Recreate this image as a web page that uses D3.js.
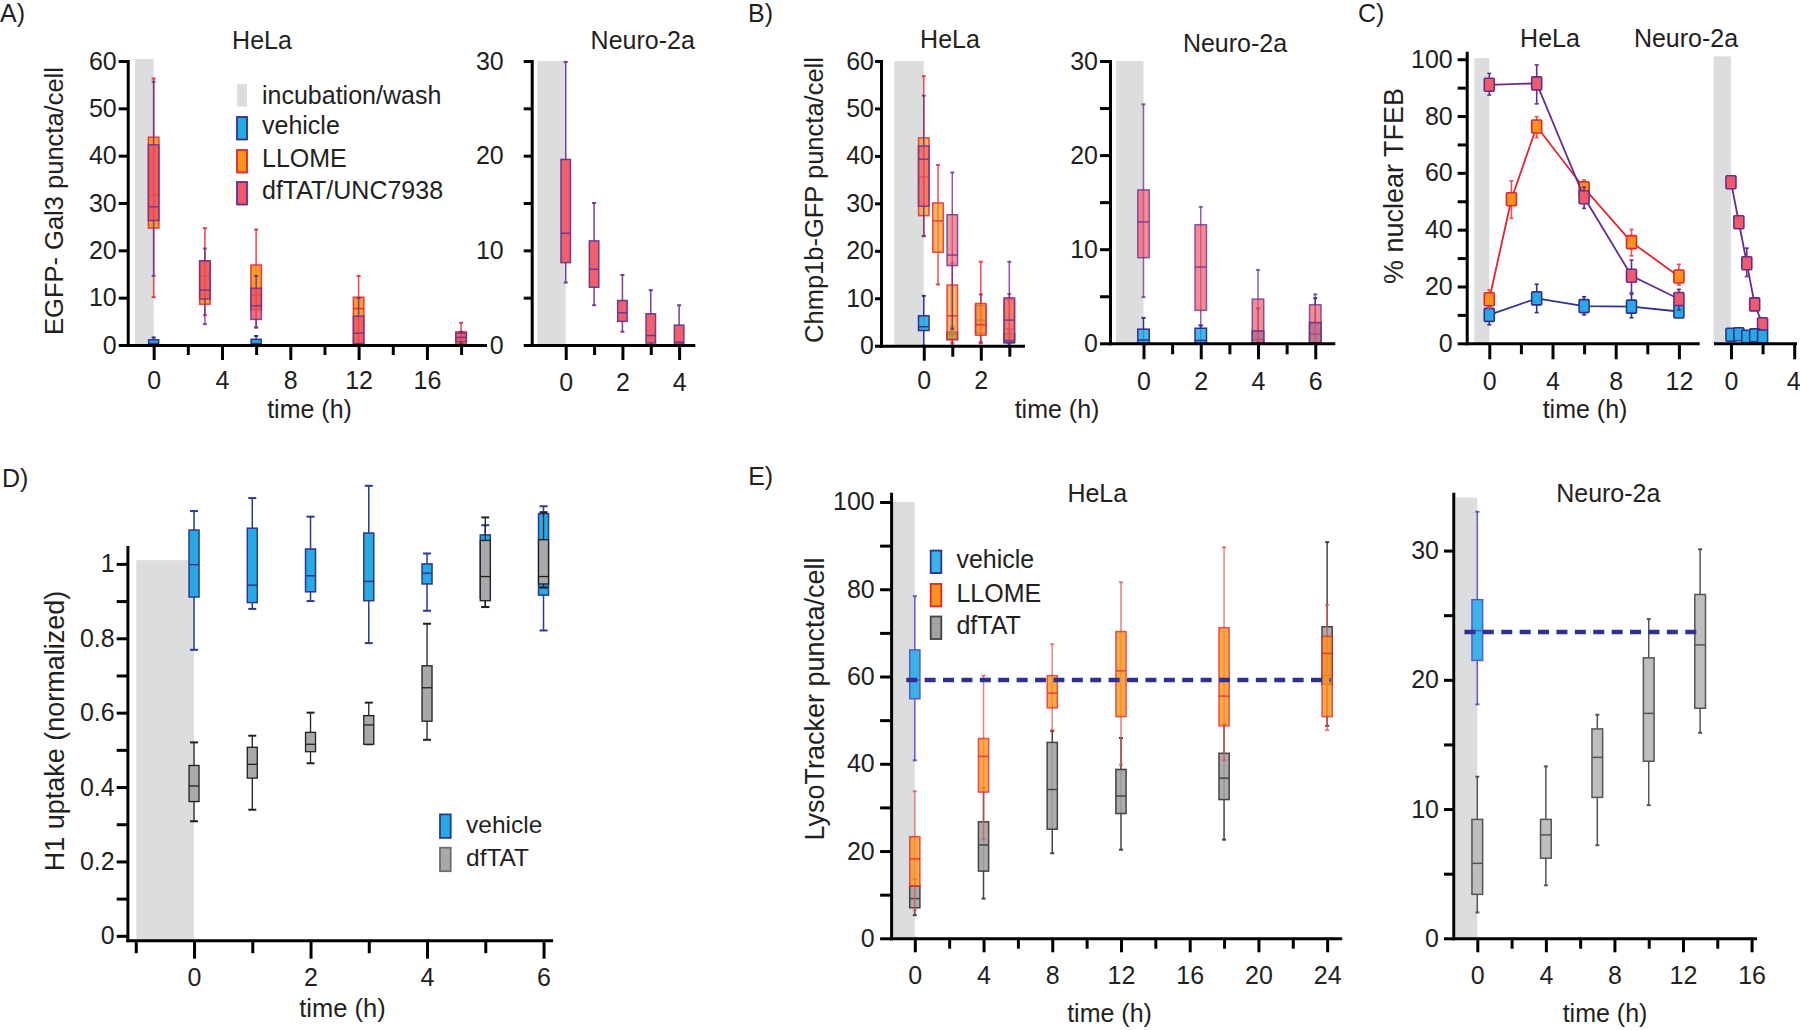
<!DOCTYPE html>
<html><head><meta charset="utf-8">
<script src="https://cdn.jsdelivr.net/npm/d3@7"></script>
<style>
body{margin:0;background:#fff;}
svg{display:block;}
</style></head><body>
<svg id="chart" width="1800" height="1030"></svg>
<script>
// ================= DATA =================
// Box statistics: t = time (h), lo/hi = whiskers, q1/q3 = box, med = median
const aHelaVehicle = [{t:0,lo:0,q1:0,med:0.3,q3:1.1,hi:1.6},{t:6,lo:0,q1:0,med:0.3,q3:1.2,hi:1.9}];
const aHelaLLOME = [
  {t:0,lo:10.1,q1:24.7,med:31.7,q3:43.9,hi:56.3},
  {t:3,lo:6.3,q1:8.6,med:14.6,q3:17.8,hi:24.7},
  {t:6,lo:3.7,q1:7.4,med:10.5,q3:16.9,hi:24.4},
  {t:12,lo:0,q1:0.3,med:7.7,q3:10.1,hi:14.6},
  {t:18,lo:0,q1:0.3,med:1.6,q3:2.8,hi:4.7}];
const aHelaDfTAT = [
  {t:0,lo:14.6,q1:26.3,med:29.2,q3:42.3,hi:55.6},
  {t:3,lo:4.4,q1:9.7,med:11.6,q3:17.8,hi:20.4},
  {t:6,lo:3.7,q1:5.4,med:8.3,q3:12.0,hi:14.6},
  {t:12,lo:0,q1:0.3,med:2.5,q3:6.1,hi:9.9},
  {t:18,lo:0.3,q1:0.7,med:1.6,q3:2.5,hi:2.8}];
const aNeuroDfTAT = [
  {t:0,lo:6.6,q1:8.7,med:11.8,q3:19.6,hi:29.9},
  {t:1,lo:4.2,q1:6.1,med:8.0,q3:11.0,hi:15.0},
  {t:2,lo:1.4,q1:2.5,med:3.4,q3:4.7,hi:7.4},
  {t:3,lo:0,q1:0.2,med:1.0,q3:3.3,hi:5.8},
  {t:4,lo:0,q1:0.1,med:0.3,q3:2.1,hi:4.2}];

const bHelaVehicle = [
  {t:0,lo:0,q1:3.2,med:4.0,q3:6.3,hi:10.5},
  {t:1,lo:0,q1:1.3,med:2.4,q3:2.9,hi:4.0},
  {t:3,lo:0,q1:0.6,med:1.2,q3:2.5,hi:3.0}];
const bHelaLLOME = [
  {t:0,lo:23.1,q1:27.4,med:35.6,q3:43.8,hi:56.8},
  {t:0.5,lo:12.9,q1:19.7,med:26.3,q3:30.1,hi:38.1},
  {t:1,lo:0.6,q1:1.3,med:6.3,q3:12.8,hi:17.4},
  {t:2,lo:0.8,q1:2.2,med:4.4,q3:8.9,hi:17.7},
  {t:3,lo:0.5,q1:1.2,med:3.5,q3:9.8,hi:10.9}];
const bHelaDfTAT = [
  {t:0,lo:23.1,q1:29.4,med:39.3,q3:42.1,hi:52.7},
  {t:1,lo:3.5,q1:16.9,med:19.1,q3:27.6,hi:36.5},
  {t:2,lo:0.5,q1:2.6,med:5.4,q3:8.5,hi:10.8},
  {t:3,lo:0.6,q1:1.0,med:5.4,q3:10.1,hi:17.7}];
const bNeuroVehicle = [
  {t:0,lo:0,q1:0,med:0.35,q3:1.5,hi:2.7},
  {t:2,lo:0,q1:0,med:0.3,q3:1.6,hi:1.9},
  {t:4,lo:0,q1:0,med:0.4,q3:1.3,hi:3.7},
  {t:6,lo:0,q1:0,med:1.0,q3:2.2,hi:4.8}];
const bNeuroDfTAT = [
  {t:0,lo:4.9,q1:9.1,med:12.9,q3:16.3,hi:25.4},
  {t:2,lo:1.9,q1:3.5,med:8.1,q3:12.6,hi:14.5},
  {t:4,lo:0,q1:0,med:1.3,q3:4.7,hi:7.8},
  {t:6,lo:0,q1:0,med:2.2,q3:4.1,hi:5.2}];

// Panel C: mean with error range
const cHelaVehicle = [
  {t:0,v:10.0,lo:6.5,hi:12.9},{t:3,v:15.8,lo:10.8,hi:20.8},{t:6,v:13.1,lo:10.0,hi:16.4},
  {t:9,v:12.9,lo:9.0,hi:17.3},{t:12,v:11.2,lo:10.0,hi:12.5}];
const cHelaLLOME = [
  {t:0,v:15.5,lo:12.5,hi:18.8},{t:1.4,v:50.7,lo:44.0,hi:57.2},{t:3,v:76.3,lo:72.4,hi:79.8},
  {t:6,v:54.6,lo:51.5,hi:57.5},{t:9,v:35.6,lo:30.8,hi:40.1},{t:12,v:23.5,lo:20.5,hi:27.8}];
const cHelaDfTAT = [
  {t:0,v:91.0,lo:87.4,hi:95.0},{t:3,v:91.5,lo:84.3,hi:98.0},{t:6,v:51.4,lo:47.5,hi:55.0},
  {t:9,v:23.8,lo:17.8,hi:29.3},{t:12,v:15.6,lo:11.7,hi:19.0}];
const cNeuroVehicle = [
  {t:0,v:3.0,lo:3.0,hi:3.0},{t:0.5,v:3.2,lo:2.8,hi:4.3},{t:1,v:2.3,lo:2.3,hi:2.3},
  {t:1.5,v:2.8,lo:2.8,hi:2.8},{t:2,v:2.4,lo:2.4,hi:2.4}];
const cNeuroDfTAT = [
  {t:0,v:56.7,lo:56.7,hi:56.7},{t:0.5,v:42.6,lo:42.6,hi:42.6},{t:1,v:28.2,lo:23.5,hi:33.5},
  {t:1.5,v:13.7,lo:13.7,hi:13.7},{t:2,v:6.7,lo:6.7,hi:6.7}];

const dVehicle = [
  {t:0,lo:0.769,q1:0.911,med:0.998,q3:1.091,hi:1.142},
  {t:1,lo:0.879,q1:0.896,med:0.943,q3:1.096,hi:1.177},
  {t:2,lo:0.900,q1:0.925,med:0.968,q3:1.040,hi:1.127},
  {t:3,lo:0.787,q1:0.901,med:0.953,q3:1.083,hi:1.210},
  {t:4,lo:0.874,q1:0.946,med:0.975,q3:1.000,hi:1.028},
  {t:5,lo:0.884,q1:0.908,med:0.980,q3:1.078,hi:1.104},
  {t:6,lo:0.821,q1:0.916,med:0.938,q3:1.135,hi:1.155}];
const dDfTAT = [
  {t:0,lo:0.308,q1:0.361,med:0.403,q3:0.458,hi:0.520},
  {t:1,lo:0.339,q1:0.424,med:0.461,q3:0.507,hi:0.538},
  {t:2,lo:0.464,q1:0.495,med:0.515,q3:0.547,hi:0.600},
  {t:3,lo:0.515,q1:0.515,med:0.567,q3:0.592,hi:0.627},
  {t:4,lo:0.527,q1:0.577,med:0.667,q3:0.726,hi:0.839},
  {t:5,lo:0.884,q1:0.901,med:0.966,q3:1.063,hi:1.125},
  {t:6,lo:0.936,q1:0.946,med:0.966,q3:1.065,hi:1.139}];

const eHelaVehicle = [{t:0,lo:40.8,q1:54.9,med:59.2,q3:66.1,hi:78.4}];
const eHelaLLOME = [
  {t:0,lo:6.4,q1:12.0,med:18.2,q3:23.3,hi:33.7},
  {t:4,lo:22.7,q1:33.5,med:41.7,q3:45.8,hi:60.2},
  {t:8,lo:47.7,q1:52.8,med:56.2,q3:60.2,hi:67.4},
  {t:12,lo:39.8,q1:50.8,med:61.3,q3:70.3,hi:81.6},
  {t:18,lo:40.8,q1:48.7,med:55.5,q3:71.2,hi:89.6},
  {t:24,lo:47.7,q1:50.8,med:65.3,q3:69.2,hi:76.4}];
const eHelaDfTAT = [
  {t:0,lo:5.3,q1:7.0,med:9.1,q3:12.0,hi:13.6},
  {t:4,lo:9.1,q1:15.4,med:21.4,q3:26.7,hi:34.5},
  {t:8,lo:19.5,q1:25.0,med:34.1,q3:44.9,hi:47.5},
  {t:12,lo:20.3,q1:28.6,med:32.6,q3:38.7,hi:45.9},
  {t:18,lo:22.6,q1:31.8,med:36.7,q3:42.4,hi:49.2},
  {t:24,lo:48.7,q1:58.2,med:60.2,q3:71.4,hi:90.8}];
const eNeuroVehicle = [{t:0,lo:18.1,q1:21.5,med:23.8,q3:26.2,hi:33.0}];
const eNeuroDfTAT = [
  {t:0,lo:2.0,q1:3.4,med:5.8,q3:9.2,hi:12.5},
  {t:4,lo:4.1,q1:6.2,med:8.0,q3:9.2,hi:13.3},
  {t:7,lo:7.2,q1:10.9,med:14.0,q3:16.2,hi:17.3},
  {t:10,lo:10.3,q1:13.7,med:17.4,q3:21.7,hi:24.7},
  {t:13,lo:15.9,q1:17.8,med:22.7,q3:26.6,hi:30.1}];
// vehicle median reference lines (value, from t, to t)
const eHelaRef = [59.2, -0.5, 24.2];
const eNeuroRef = [23.7, -0.75, 12.9];

// incubation/wash windows (t start, t end, upper value)
const washAHela = [-1.1, 0, 60.4], washANeuro = [-1.0, 0, 30];
const washBHela = [-1.03, 0, 60], washBNeuro = [-0.96, 0, 30];
const washCHela = [-0.95, 0, 100.4], washCNeuro = [-1.1, 0, 101];
const washD = [-0.99, 0, 1.01];
const washEHela = [-1.27, 0, 100], washENeuro = [-1.25, 0, 34.1];

// tick values / labels
const range = (a,b,s) => d3.range(a, b + s/2, s).map(v => +v.toFixed(2));
const ticksA_x = range(0,18,2), labelsA_x = [0,4,8,12,16];
const ticksA_y = range(0,60,10), labelsA_y = range(0,60,10);
const ticksAN_x = [0,1,2,3,4], labelsAN_x = [0,2,4];
const ticksAN_y = range(0,30,5), labelsAN_y = [0,10,20,30];
const ticksB_x = [0,1,2,3], labelsB_x = [0,2];
const ticksBN_x = [0,1,2,3,4,5,6], labelsBN_x = [0,2,4,6];
const ticksC_x = range(0,12,2), labelsC_x = [0,4,8,12];
const ticksC_y = range(0,100,10), labelsC_y = range(0,100,20);
const ticksCN_x = [0,2,4], labelsCN_x = [0,4];
const ticksD_x = [-1,0,1,2,3,4,5,6], labelsD_x = [0,2,4,6];
const ticksD_y = range(0,1,0.1), labelsD_y = [0,0.2,0.4,0.6,0.8,1];
const ticksE_x = range(0,24,2), labelsE_x = range(0,24,4);
const ticksE_y = range(0,100,10), labelsE_y = range(0,100,20);
const ticksEN_x = range(0,16,2), labelsEN_x = range(0,16,4);
const ticksEN_y = range(0,30,5), labelsEN_y = [0,10,20,30];

const legendA = ["incubation/wash","vehicle","LLOME","dfTAT/UNC7938"];
const legendD = ["vehicle","dfTAT"];
const legendE = ["vehicle","LLOME","dfTAT"];

// ================= DRAWING =================
const FONT = '"Liberation Sans", Arial, Helvetica, sans-serif';
const INK = "#231f20";
const svg = d3.select("#chart").attr("font-family", FONT);
const BAND = "#dcdddf";

function txt(s, x, y, fs, anchor, rot) {
  return svg.append("text").attr("x", x).attr("y", y).text(s)
    .attr("font-size", fs).attr("text-anchor", anchor || "start").attr("fill", INK)
    .attr("transform", rot ? `rotate(-90,${x},${y})` : null);
}
function styleAxis(a, fs) {
  a.attr("font-family", FONT).attr("font-size", fs);
  a.select(".domain").attr("stroke", "#000").attr("stroke-width", 3).attr("stroke-linecap", "square");
  a.selectAll(".tick line").attr("stroke", "#000").attr("stroke-width", 3);
  a.selectAll(".tick text").attr("fill", INK);
}
function axes(x, y, o) {
  const inc = (arr, d) => arr.some(v => Math.abs(v - d) < 1e-6);
  const gx = svg.append("g").attr("transform", `translate(0,${y.range()[0]})`)
    .call(d3.axisBottom(x).tickValues(o.xt).tickSize(o.major).tickSizeOuter(0).tickPadding(o.xPad)
      .tickFormat(d => inc(o.xl, d) ? String(d) : ""));
  gx.selectAll(".tick line").attr("y2", d => inc(o.xl, d) ? o.major : o.minor);
  styleAxis(gx, o.fs);
  if (o.yt) {
    const gy = svg.append("g").attr("transform", `translate(${x.range()[0]},0)`)
      .call(d3.axisLeft(y).tickValues(o.yt).tickSize(o.yLen).tickSizeOuter(0).tickPadding(o.yPad)
        .tickFormat(d => inc(o.yl, d) ? String(d) : ""));
    styleAxis(gy, o.fs);
  }
  return gx;
}
function band(x, y, w) {
  svg.append("rect").attr("x", x(w[0])).attr("width", x(w[1]) - x(w[0]))
    .attr("y", y(w[2])).attr("height", y.range()[0] - y(w[2])).attr("fill", BAND);
}
function boxes(data, x, y, st, w) {
  const g = svg.append("g").selectAll("g").data(data).join("g");
  const sw = st.sw || 1.5, cw = (st.cap || 4) / 2;
  g.append("line").attr("x1", d => x(d.t)).attr("x2", d => x(d.t))
    .attr("y1", d => y(d.lo)).attr("y2", d => y(d.hi))
    .attr("stroke", st.wstroke || st.stroke).attr("stroke-width", sw).attr("stroke-opacity", st.so || 1);
  g.selectAll("line.cap").data(d => [[d.t, d.lo], [d.t, d.hi]]).join("line").attr("class", "cap")
    .attr("x1", d => x(d[0]) - cw).attr("x2", d => x(d[0]) + cw).attr("y1", d => y(d[1])).attr("y2", d => y(d[1]))
    .attr("stroke", st.wstroke || st.stroke).attr("stroke-width", 2).attr("stroke-opacity", st.so || 1);
  g.append("rect").attr("x", d => x(d.t) - w / 2).attr("width", w)
    .attr("y", d => y(d.q3)).attr("height", d => Math.max(0, y(d.q1) - y(d.q3)))
    .attr("fill", st.fill).attr("fill-opacity", st.fo || 1)
    .attr("stroke", st.stroke).attr("stroke-width", sw).attr("stroke-opacity", st.so || 1);
  g.append("line").attr("x1", d => x(d.t) - w / 2).attr("x2", d => x(d.t) + w / 2)
    .attr("y1", d => y(d.med)).attr("y2", d => y(d.med))
    .attr("stroke", st.stroke).attr("stroke-width", sw).attr("stroke-opacity", st.so || 1);
}
function markers(data, x, y, st, line) {
  if (line) {
    svg.append("path").datum(data).attr("fill", "none").attr("stroke", st.line).attr("stroke-width", 1.8)
      .attr("d", d3.line().x(d => x(d.t)).y(d => y(d.v)));
  }
  const g = svg.append("g").selectAll("g").data(data).join("g");
  g.append("line").attr("x1", d => x(d.t)).attr("x2", d => x(d.t)).attr("y1", d => y(d.lo)).attr("y2", d => y(d.hi))
    .attr("stroke", st.err).attr("stroke-width", 1.6);
  g.selectAll("line.cap").data(d => d.hi > d.lo ? [[d.t, d.lo], [d.t, d.hi]] : []).join("line").attr("class", "cap")
    .attr("x1", d => x(d[0]) - 2).attr("x2", d => x(d[0]) + 2).attr("y1", d => y(d[1])).attr("y2", d => y(d[1]))
    .attr("stroke", st.err).attr("stroke-width", 1.6);
  g.append("rect").attr("x", d => x(d.t) - 5).attr("y", d => y(d.v) - 6.5).attr("width", 10).attr("height", 13)
    .attr("rx", 1).attr("fill", st.fill).attr("stroke", st.stroke).attr("stroke-width", 1.6);
}
function legend(items, x0, w, tops, h, tx, bases, fills, strokes, fs) {
  const lg = svg.append("g").selectAll("g").data(items).join("g");
  lg.append("rect").attr("x", x0).attr("width", w).attr("y", (d,i) => tops[i]).attr("height", h)
    .attr("fill", (d,i) => fills[i]).attr("stroke", (d,i) => strokes[i]).attr("stroke-width", 1.8);
  lg.append("text").attr("x", tx).attr("y", (d,i) => bases[i]).text(d => d)
    .attr("font-size", fs).attr("fill", INK);
}

const VEH = {fill:"#27aae1", stroke:"#2e3192"};
const LLO = {fill:"#f7941d", stroke:"#e3242b"};
const DFT = {fill:"#f05a6a", stroke:"#662d91"};

// ---------- Panel A ----------
txt("A)", 0, 22, 25);
{
  const x = d3.scaleLinear().domain([-1.52, 19.4]).range([127.7, 485]);
  const y = d3.scaleLinear().domain([0, 60]).range([345, 61]);
  band(x, y, washAHela);
  boxes(aHelaVehicle, x, y, {...VEH}, 10);
  boxes(aHelaLLOME, x, y, {...LLO, fo:0.9, so:0.85}, 10.5);
  boxes(aHelaDfTAT, x, y, {...DFT, fill:"#ef4f63", fo:0.8, so:0.8}, 10.5);
  axes(x, y, {xt:ticksA_x, xl:labelsA_x, major:15, minor:10, xPad:11, yt:ticksA_y, yl:labelsA_y, yLen:9, yPad:2, fs:25});
  txt("HeLa", 262, 49, 25, "middle");
  txt("time (h)", 309.5, 418, 25, "middle");
  txt("EGFP- Gal3 puncta/cell", 63, 201, 25.5, "middle", true);
  legend(legendA, 237, 10, [84, 117, 150, 182], 22.5, 262, [104, 134, 167, 199],
    [BAND, VEH.fill, LLO.fill, DFT.fill], ["none", VEH.stroke, LLO.stroke, DFT.stroke], 25);
}
{
  const x = d3.scaleLinear().domain([-1.2, 4.5]).range([531.7, 693.3]);
  const y = d3.scaleLinear().domain([0, 30]).range([345, 61]);
  band(x, y, washANeuro);
  boxes(aNeuroDfTAT, x, y, {...DFT, fill:"#f0606b", so:0.9}, 9.5);
  axes(x, y, {xt:ticksAN_x, xl:labelsAN_x, major:15, minor:10, xPad:13, yt:ticksAN_y, yl:labelsAN_y, yLen:8, yPad:20, fs:25});
  txt("Neuro-2a", 642.7, 49, 25, "middle");
}

// ---------- Panel B ----------
txt("B)", 748, 22, 25);
{
  const x = d3.scaleLinear().domain([-1.5, 3.48]).range([881, 1023]);
  const y = d3.scaleLinear().domain([0, 60]).range([345.7, 61]);
  band(x, y, washBHela);
  boxes(bHelaVehicle, x, y, {...VEH, fo:0.9}, 10.5);
  boxes(bHelaDfTAT.filter(d => d.t === 2), x, y, {...DFT, fo:0.6, so:0.8}, 10.5);
  boxes(bHelaLLOME, x, y, {...LLO, fo:0.7, so:0.8}, 10.5);
  boxes(bHelaDfTAT.filter(d => d.t !== 2), x, y, {...DFT, fo:0.65, so:0.8}, 10.5);
  axes(x, y, {xt:ticksB_x, xl:labelsB_x, major:15, minor:11, xPad:11, yt:ticksA_y, yl:labelsA_y, yLen:6, yPad:1, fs:25});
  txt("HeLa", 950, 48, 25, "middle");
  txt("Chmp1b-GFP puncta/cell", 823, 200, 25.5, "middle", true);
}
{
  const x = d3.scaleLinear().domain([-1.17, 6.63]).range([1110, 1333.3]);
  const y = d3.scaleLinear().domain([0, 30]).range([343.3, 61]);
  band(x, y, washBNeuro);
  boxes(bNeuroVehicle, x, y, {...VEH, fo:0.85}, 11.5);
  boxes(bNeuroDfTAT, x, y, {...DFT, fo:0.7, so:0.75}, 11.5);
  axes(x, y, {xt:ticksBN_x, xl:labelsBN_x, major:16, minor:11, xPad:13, yt:ticksAN_y, yl:labelsAN_y, yLen:10, yPad:2, fs:25});
  txt("Neuro-2a", 1235, 52, 25, "middle");
}
txt("time (h)", 1057, 418, 25, "middle");

// ---------- Panel C ----------
txt("C)", 1358, 22, 25);
{
  const x = d3.scaleLinear().domain([-1.43, 13.19]).range([1466.7, 1697.7]);
  const y = d3.scaleLinear().domain([0, 102.3]).range([343.3, 52.7]);
  band(x, y, washCHela);
  markers(cHelaVehicle, x, y, {...VEH, line:"#2e3192", err:"#2e3192"}, true);
  markers(cHelaLLOME, x, y, {...LLO, line:"#e3242b", err:"#e8505a"}, true);
  markers(cHelaDfTAT, x, y, {...DFT, line:"#662d91", err:"#662d91"}, true);
  axes(x, y, {xt:ticksC_x, xl:labelsC_x, major:16, minor:11, xPad:13, yt:ticksC_y, yl:labelsC_y, yLen:9, yPad:5, fs:25});
  txt("HeLa", 1550, 47, 25, "middle");
  txt("time (h)", 1585, 418, 25, "middle");
  txt("% nuclear TFEB", 1403, 186, 27, "middle", true);
}
{
  const x = d3.scaleLinear().domain([-1.01, 4.05]).range([1715, 1795]);
  const y = d3.scaleLinear().domain([0, 102.3]).range([343.3, 52.7]);
  band(x, y, washCNeuro);
  markers(cNeuroDfTAT, x, y, {...DFT, line:"#662d91", err:"#662d91"}, true);
  markers(cNeuroVehicle, x, y, {...VEH, line:"#2e3192", err:"#2e3192"}, false);
  const gx = axes(x, y, {xt:ticksCN_x, xl:labelsCN_x, major:16, minor:11, xPad:13, fs:25});
  // keep the edge label inside the canvas
  gx.selectAll(".tick text").filter(d => d === 4).attr("text-anchor", "end").attr("dx", 6);
  txt("Neuro-2a", 1686, 47, 25, "middle");
}

// ---------- Panel D ----------
txt("D)", 2, 487, 25);
{
  const x = d3.scaleLinear().domain([-1.144, 6.13]).range([127.4, 551.1]);
  const y = d3.scaleLinear().domain([-0.0118, 1.0457]).range([940.2, 546.9]);
  band(x, y, washD);
  boxes(dVehicle, x, y, {fill:"#27aae1", stroke:"#2b3990", cap:8}, 10);
  boxes(dDfTAT, x, y, {fill:"#a7a9ac", stroke:"#231f20", sw:1.3, cap:8}, 10);
  axes(x, y, {xt:ticksD_x, xl:labelsD_x, major:18.5, minor:13, xPad:9.5, yt:ticksD_y, yl:labelsD_y, yLen:10.7, yPad:2, fs:25});
  txt("time (h)", 342.5, 1017, 25.5, "middle");
  txt("H1 uptake (normalized)", 63.5, 731, 27, "middle", true);
  legend(legendD, 440, 10.7, [814.4, 847.7], 23.5, 466, [833, 866],
    ["#27aae1", "#a7a9ac"], ["#2b3990", "#6d6e71"], 24.5);
}

// ---------- Panel E ----------
txt("E)", 748.2, 485, 25);
{
  const x = d3.scaleLinear().domain([-1.38, 24.76]).range([891.1, 1340.2]);
  const y = d3.scaleLinear().domain([0, 101.9]).range([938.3, 493.7]);
  band(x, y, washEHela);
  boxes(eHelaDfTAT, x, y, {fill:"#a3a3a3", fo:0.9, stroke:"#444"}, 10.2);
  boxes(eHelaLLOME, x, y, {...LLO, fo:0.8, so:0.75, wstroke:"#e8505a"}, 10.2);
  boxes(eHelaVehicle, x, y, {fill:"#3ab4e6", stroke:"#5a5ad0"}, 10.2);
  svg.append("line").attr("x1", x(eHelaRef[1])).attr("x2", x(eHelaRef[2])).attr("y1", y(eHelaRef[0])).attr("y2", y(eHelaRef[0]))
    .attr("stroke", "#2e3192").attr("stroke-width", 4.4).attr("stroke-dasharray", "11,7.4");
  axes(x, y, {xt:ticksE_x, xl:labelsE_x, major:14, minor:10.4, xPad:13.7, yt:ticksE_y, yl:labelsE_y, yLen:11, yPad:5.4, fs:25});
  txt("HeLa", 1097.3, 501.8, 25, "middle");
  txt("time (h)", 1109.5, 1021.6, 25, "middle");
  txt("LysoTracker puncta/cell", 824, 699, 27, "middle", true);
  legend(legendE, 930.7, 10.6, [550.6, 583.9, 616.5], 22.5, 956.4, [568.4, 601.7, 633.9],
    ["#3ab4e6", "#f7941d", "#a3a3a3"], ["#2e3192", "#e3242b", "#444"], 25);
}
{
  const x = d3.scaleLinear().domain([-1.4, 16.2]).range([1453.3, 1755]);
  const y = d3.scaleLinear().domain([0, 34.4]).range([938.3, 493.7]);
  band(x, y, washENeuro);
  boxes(eNeuroVehicle, x, y, {fill:"#3ab4e6", stroke:"#5a5ad0"}, 10.7);
  boxes(eNeuroDfTAT, x, y, {fill:"#bebebe", stroke:"#555"}, 10.7);
  svg.append("line").attr("x1", x(eNeuroRef[1])).attr("x2", x(eNeuroRef[2])).attr("y1", y(eNeuroRef[0])).attr("y2", y(eNeuroRef[0]))
    .attr("stroke", "#2e3192").attr("stroke-width", 4.4).attr("stroke-dasharray", "11,7.4");
  axes(x, y, {xt:ticksEN_x, xl:labelsEN_x, major:14, minor:10.4, xPad:13.7, yt:ticksEN_y, yl:labelsEN_y, yLen:9.3, yPad:5, fs:25});
  txt("Neuro-2a", 1608.3, 501.8, 25, "middle");
  txt("time (h)", 1605, 1021.6, 25, "middle");
}
</script>
</body></html>
